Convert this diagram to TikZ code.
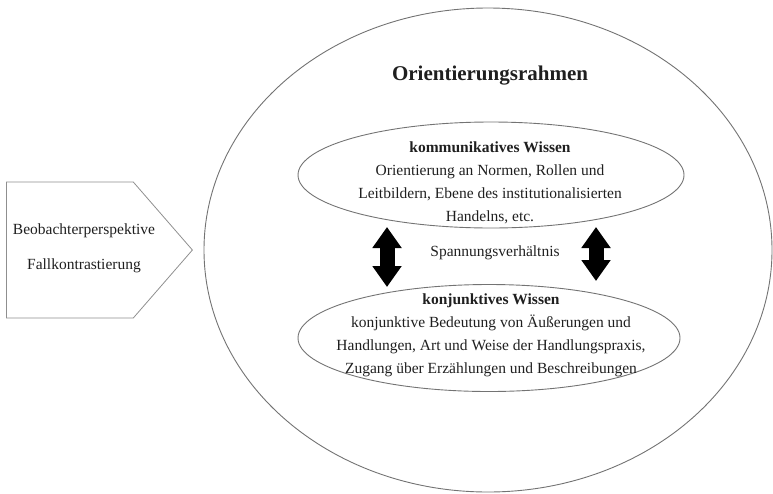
\documentclass[tikz,border=0pt]{standalone}
\usepackage{fontspec}
\setmainfont{Liberation Serif}
\usetikzlibrary{arrows.meta,positioning,shapes.geometric,shapes.symbols}
\definecolor{rim}{gray}{0.45}
\definecolor{ink}{gray}{0.12}
\tikzset{
  body/.style     = {font=\fontsize{15.5}{23}\selectfont, text=ink, align=center, inner sep=0pt},
  oval/.style     = {draw=rim, ellipse, line width=0.9pt, inner sep=0pt},
  bothways/.style = {line width=15pt, {Triangle[width=28pt,length=21pt]}-{Triangle[width=28pt,length=21pt]}},
}

\begin{document}
\begin{tikzpicture}[x=1pt,y=-1pt]
    \useasboundingbox (0,0) rectangle (773,493);

    % perspective arrow
    \node[draw=rim!80, line width=0.8pt, signal, signal to=east, signal pointer angle=98,
          minimum width=186pt, minimum height=136pt, anchor=west] (persp) at (6,250) {};
    \node[body] (beob) at (84,231) {Beobachterperspektive};
    \node[body, below=20pt of beob] (fall) {Fallkontrastierung};

    % frame
    \node[oval, minimum width=568pt, minimum height=484pt] (rahmen) at (488,250) {};
    \node[body, font=\fontsize{21}{25}\selectfont\bfseries] (titel) at (490,76) {Orientierungsrahmen};

    \node[oval, minimum width=386pt, minimum height=106pt] (komm) at (491,175) {};
    \node[body] (kommtxt) at (490,183) {\textbf{kommunikatives Wissen}\\
      Orientierung an Normen, Rollen und\\
      Leitbildern, Ebene des institutionalisierten\\
      Handelns, etc.};

    \node[oval, minimum width=382pt, minimum height=107pt] (konj) at (489,338) {};
    \node[body] (konjtxt) at (491,335) {\textbf{konjunktives Wissen}\\
      konjunktive Bedeutung von Äußerungen und\\
      Handlungen, Art und Weise der Handlungspraxis,\\
      Zugang über Erzählungen und Beschreibungen};

    \node[body] (spann) at (495,253) {Spannungsverhältnis};

    \coordinate (lo) at (387,227);
    \coordinate (lu) at (387,287);
    \coordinate (ro) at (596,227);
    \coordinate (ru) at (596,281);
    \draw[bothways] (lo) -- (lu);
    \draw[bothways] (ro) -- (ru);
\end{tikzpicture}
\end{document}
